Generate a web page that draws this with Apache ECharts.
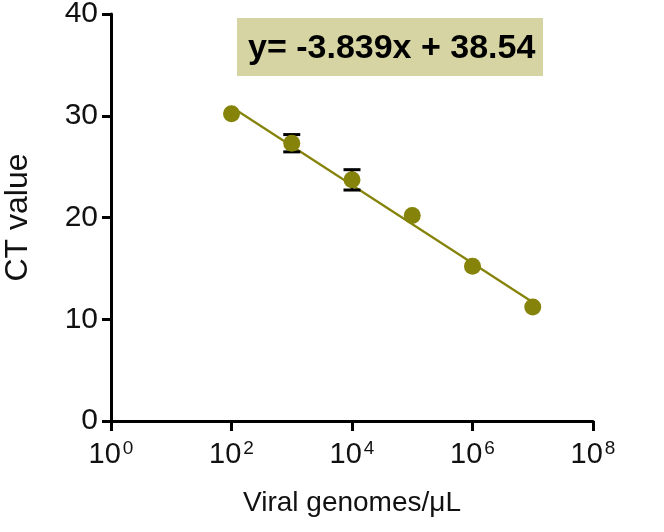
<!DOCTYPE html>
<html><head><meta charset="utf-8">
<script src="https://cdn.jsdelivr.net/npm/echarts@6/dist/echarts.min.js"></script>
<style>html,body{margin:0;padding:0;background:#fff}#c{width:664px;height:532px}</style>
</head><body><div id="c"></div>
<script>
// Data (x as log10 of viral genomes/µL)
const logGenomes = [2, 3, 4, 5, 6, 7];
const ctMean = [30.2, 27.3, 23.7, 20.2, 15.2, 11.2];
const ctSD = [0, 0.85, 1.0, 0, 0, 0];
const slope = -3.839;
const intercept = 38.54;
const fitRange = [2, 7];
const equationText = 'y= -3.839x + 38.54';

const olive = '#858309';
const chart = echarts.init(document.getElementById('c'));
const pts = logGenomes.map((x, i) => [x, ctMean[i]]);
const errs = logGenomes.map((x, i) => [x, ctMean[i] - ctSD[i], ctMean[i] + ctSD[i]]).filter((d, i) => ctSD[i] > 0);
const fit = fitRange.map(x => [x, slope * x + intercept]);

chart.setOption({
  animation: false,
  grid: {left: 111, right: 71, top: 14, bottom: 111, containLabel: false, outerBoundsMode: 'none'},
  xAxis: {
    type: 'value', min: 0, max: 8, interval: 2,
    axisLine: {lineStyle: {color: '#000', width: 3}},
    axisTick: {show: true, length: 10, lineStyle: {width: 3, color: '#000'}},
    splitLine: {show: false},
    axisLabel: {
      margin: 18, color: '#111',
      formatter: v => '{b|10}{s|' + v + '}',
      rich: {
        b: {fontSize: 29, fontFamily: 'Liberation Sans', color: '#111', lineHeight: 30, verticalAlign: 'bottom'},
        s: {fontSize: 19, fontFamily: 'Liberation Sans', color: '#111', lineHeight: 30, verticalAlign: 'top', padding: [0, 0, 0, 2]}
      }
    },
    name: 'Viral genomes/\u03bcL', nameLocation: 'middle', nameGap: 68,
    nameTextStyle: {fontSize: 28, fontFamily: 'Liberation Sans', color: '#111'}
  },
  yAxis: {
    type: 'value', min: 0, max: 40, interval: 10,
    axisLine: {show: true, lineStyle: {color: '#000', width: 3}},
    axisTick: {show: true, length: 9, lineStyle: {width: 3, color: '#000'}},
    splitLine: {show: false},
    axisLabel: {margin: 13, fontSize: 30, fontFamily: 'Liberation Sans', color: '#111'},
    name: 'CT value', nameLocation: 'middle', nameGap: 77, nameRotate: 90,
    nameTextStyle: {fontSize: 32, fontFamily: 'Liberation Sans', color: '#111'}
  },
  series: [
    {type: 'line', data: fit, symbol: 'none', lineStyle: {color: olive, width: 2.2}, z: 2},
    {
      type: 'custom', z: 3,
      renderItem: (params, api) => {
        const x = api.value(0);
        const lo = api.coord([x, api.value(1)]);
        const hi = api.coord([x, api.value(2)]);
        const w = 8.5;
        const st = {stroke: '#000', lineWidth: 3};
        return {type: 'group', children: [
          {type: 'line', shape: {x1: lo[0], y1: lo[1], x2: hi[0], y2: hi[1]}, style: st},
          {type: 'line', shape: {x1: lo[0] - w, y1: lo[1], x2: lo[0] + w, y2: lo[1]}, style: st},
          {type: 'line', shape: {x1: hi[0] - w, y1: hi[1], x2: hi[0] + w, y2: hi[1]}, style: st}
        ]};
      },
      data: errs
    },
    {type: 'scatter', data: pts, symbol: 'circle', symbolSize: 17, itemStyle: {color: olive, opacity: 1}, z: 4}
  ],
  graphic: [
    {type: 'rect', left: 237, top: 18, shape: {width: 306, height: 58}, style: {fill: '#d6d4a2'}},
    {type: 'text', left: 248, top: 32, style: {text: equationText, fontSize: 34, fontWeight: 'bold', fontFamily: 'Liberation Sans', fill: '#000'}}
  ]
});
</script></body></html>
